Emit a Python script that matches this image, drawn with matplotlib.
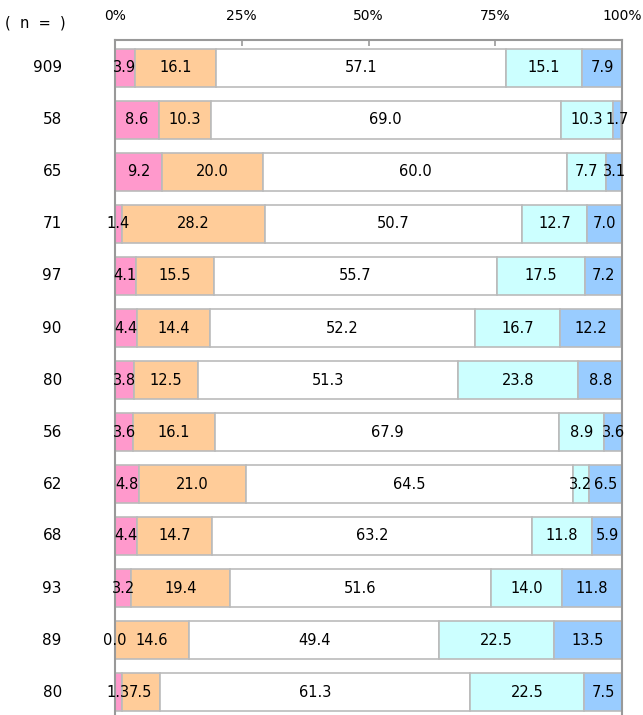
import matplotlib
matplotlib.use("Agg")
import matplotlib.pyplot as plt
import numpy as np

plt.rcParams['font.family'] = ['DejaVu Sans', 'Noto Sans CJK JP']

n_labels = ['909', '58', '65', '71', '97', '90', '80', '56', '62', '68', '93', '89', '80']

s1 = [3.9, 8.6, 9.2, 1.4, 4.1, 4.4, 3.8, 3.6, 4.8, 4.4, 3.2, 0.0, 1.3]
s2 = [16.1, 10.3, 20.0, 28.2, 15.5, 14.4, 12.5, 16.1, 21.0, 14.7, 19.4, 14.6, 7.5]
s3 = [57.1, 69.0, 60.0, 50.7, 55.7, 52.2, 51.3, 67.9, 64.5, 63.2, 51.6, 49.4, 61.3]
s4 = [15.1, 10.3, 7.7, 12.7, 17.5, 16.7, 23.8, 8.9, 3.2, 11.8, 14.0, 22.5, 22.5]
s5 = [7.9, 1.7, 3.1, 7.0, 7.2, 12.2, 8.8, 3.6, 6.5, 5.9, 11.8, 13.5, 7.5]

series = [s1, s2, s3, s4, s5]
colors = ['#FF99CC', '#FFCC99', '#FFFFFF', '#CCFFFF', '#99CCFF']

fig = plt.figure(figsize=(6.43, 7.15), dpi=100)
ax = fig.add_axes([115/643, 0, (622-115)/643, 1-40/715])

y = np.arange(len(n_labels))
left = np.zeros(len(n_labels))
for vals, c in zip(series, colors):
    vals = np.array(vals)
    ax.barh(y, vals, left=left, height=0.72, color=c, edgecolor='#BBBBBB', linewidth=1.2)
    for yi, l, v in zip(y, left, vals):
        ax.text(l + v/2, yi, f'{v:.1f}', ha='center', va='center', fontsize=10.5, color='black')
    left = left + vals

ax.set_xlim(0, 100)
ax.set_ylim((715-68)/52, -28/52)

ax.xaxis.tick_top()
ax.set_xticks([0, 25, 50, 75, 100])
ax.set_xticklabels(['0%', '25%', '50%', '75%', '100%'], fontsize=10)
ax.tick_params(axis='x', direction='in', length=4, color='#999999', pad=12, width=1.2)
ax.set_yticks([])

for s in ['top', 'left', 'right']:
    ax.spines[s].set_color('#999999')
    ax.spines[s].set_linewidth(1.5)
ax.spines['bottom'].set_visible(False)

for yi, lab in zip(y, n_labels):
    ax.text(-0.105, yi, lab, transform=ax.get_yaxis_transform(), ha='right', va='center', fontsize=11)

fig.text(35/643, 1-23/715, '(  n  =  )', ha='center', va='center', fontsize=10.5)

fig.savefig('out.png', dpi=100)
